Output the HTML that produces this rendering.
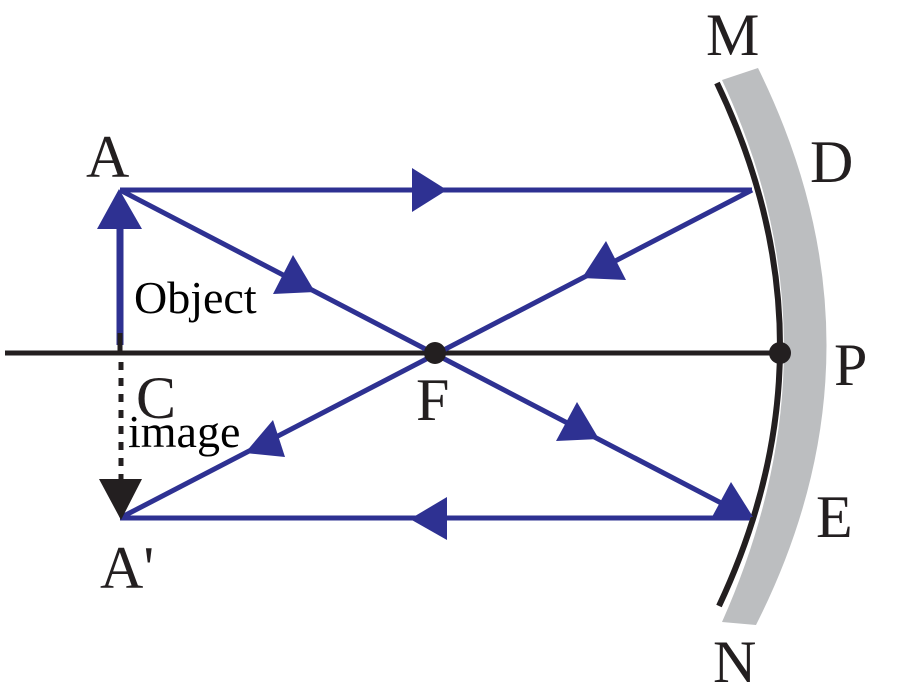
<!DOCTYPE html>
<html><head><style>html,body{margin:0;padding:0;background:#fff;}svg{display:block}text{font-family:"Liberation Serif","Times New Roman",serif;}</style></head>
<body>
<svg width="914" height="700" viewBox="0 0 914 700" xmlns="http://www.w3.org/2000/svg">
<path d="M722,80 Q846,344 722,622 L756,625 Q896,348 758,68 Z" fill="#bcbec0"/>
<path d="M717,83 Q842,344 719,606" fill="none" stroke="#231f20" stroke-width="6"/>
<line x1="5" y1="353" x2="782" y2="353" stroke="#231f20" stroke-width="5"/>
<g stroke="#2e3192" stroke-width="5" fill="none">
<line x1="120" y1="190" x2="752" y2="190"/>
<line x1="120" y1="190" x2="750" y2="518"/>
<line x1="752" y1="190" x2="120" y2="518"/>
<line x1="120" y1="518" x2="750" y2="518"/>
<line x1="120" y1="345" x2="120" y2="215" stroke-width="7"/>
</g>
<line x1="120" y1="333" x2="120" y2="352" stroke="#231f20" stroke-width="5"/>
<line x1="121" y1="362" x2="121" y2="482" stroke="#231f20" stroke-width="5" stroke-dasharray="8,8"/>
<g fill="#2e3192">
<polygon points="412,168 412,212 447,190"/>
<polygon points="447,497 447,540 410,519"/>
<polygon points="119,189 97,229 142,229"/>
<polygon points="293,255 273,294 315,292"/>
<polygon points="606,241 582,278 626,280"/>
<polygon points="273,420 245,453 285,457"/>
<polygon points="577,402 556,441 599,439"/>
<polygon points="731,482 712,517 753,517"/>
</g>
<polygon points="99,479 142,479 121,520" fill="#231f20"/>
<circle cx="435" cy="353" r="11" fill="#231f20"/>
<circle cx="780" cy="353" r="11" fill="#231f20"/>
<g fill="#231f20" font-size="60">
<text x="706" y="55">M</text>
<text x="86" y="177">A</text>
<text x="810" y="182">D</text>
<text x="834" y="385">P</text>
<text x="816" y="537">E</text>
<text x="713" y="682">N</text>
<text x="136" y="418">C</text>
<text x="416" y="420">F</text>
<text x="100" y="588">A'</text>
<text x="134" y="313" font-size="46" fill="#000">Object</text>
<text x="128" y="447" font-size="46" fill="#000">image</text>
</g>
</svg>
</body></html>
